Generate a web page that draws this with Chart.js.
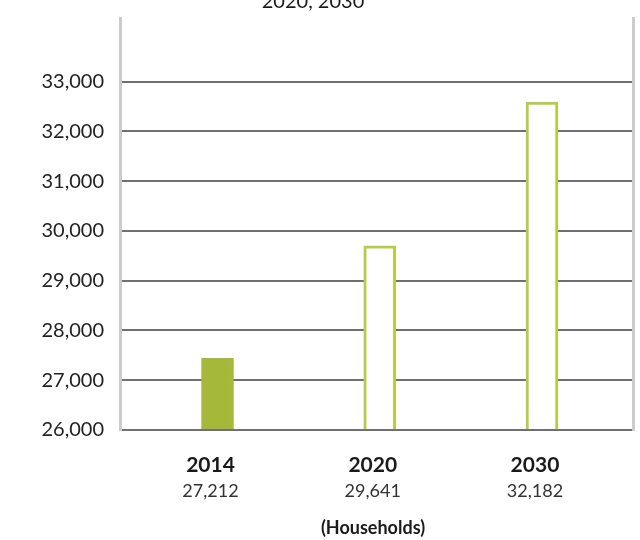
<!DOCTYPE html>
<html>
<head>
<meta charset="utf-8">
<style>
  html, body { margin: 0; padding: 0; background: #fff; overflow: hidden; }
  #wrap { width: 640px; height: 540px; position: relative; }
</style>
<script src="https://cdn.jsdelivr.net/npm/chart.js@4"></script>
</head>
<body>
<div id="wrap"><canvas id="households-chart" width="640" height="540"></canvas></div>
<script>
const years = ['2014', '2020', '2030'];
const valueLabels = ['27,212', '29,641', '32,182'];
// bar heights as drawn in the picture
const barValues = [27440, 29700, 32590];
const yTicks = [26000, 27000, 28000, 29000, 30000, 31000, 32000, 33000];
const titleText = '2020, 2030';
const unitText = '(Households)';

const green = '#a6b83a';
const lightGreen = '#b8cb48';
const fontFamily = 'Lato, "Open Sans", sans-serif';

const labelsPlugin = {
  id: 'labels',
  afterDraw(chart) {
    const c = chart.ctx;
    const x = chart.scales.x;
    c.save();
    c.fillStyle = '#1a1a1a';
    c.textAlign = 'center';
    c.textBaseline = 'alphabetic';
    c.font = '20px ' + fontFamily;
    c.fillText(titleText, 313, 8);
    years.forEach((yr, i) => {
      const px = x.getPixelForValue(i + 1) - 7;
      c.font = 'bold 21px ' + fontFamily;
      c.fillStyle = '#1a1a1a';
      c.fillText(yr, px, 472);
      c.font = '18px ' + fontFamily;
      c.fillStyle = '#333';
      c.fillText(valueLabels[i], px, 497);
    });
    c.font = 'bold 18px ' + fontFamily;
    c.fillStyle = '#1a1a1a';
    c.fillText(unitText, 373, 534);
    c.restore();
  }
};

const chart = new Chart(document.getElementById('households-chart'), {
  type: 'bar',
  data: {
    datasets: [{
      data: barValues.map((v, i) => ({ x: i + 1, y: v })),
      base: 26000,
      backgroundColor: ['#a6b83a', '#ffffff', '#ffffff'],
      borderColor: [green, lightGreen, lightGreen],
      borderWidth: 3,
      borderSkipped: 'start',
      barThickness: 32,
    }]
  },
  options: {
    responsive: false,
    animation: false,
    layout: { padding: { top: 15, bottom: 110, left: 0, right: 0 } },
    plugins: {
      legend: { display: false },
      tooltip: { enabled: false },
    },
    scales: {
      x: {
        type: 'linear',
        min: 0.399,
        max: 3.561,
        offset: false,
        display: false,
      },
      y: {
        min: 26000,
        max: 34280,
        afterBuildTicks: axis => { axis.ticks = yTicks.map(v => ({ value: v })); },
        afterFit: scale => { scale.width = 120; },
        ticks: {
          padding: 16,
          color: '#222',
          font: { family: fontFamily, size: 20, lineHeight: 0.2 },
          callback: v => v.toLocaleString('en-US'),
        },
        grid: { color: '#707070', lineWidth: 2, drawTicks: false },
        border: { color: '#cccccc', width: 3 },
      },
      yR: {
        position: 'right',
        min: 26000,
        max: 34280,
        afterFit: scale => { scale.width = 7; },
        ticks: { display: false },
        grid: { display: false, drawTicks: false },
        border: { color: '#cccccc', width: 3 },
      }
    }
  },
  plugins: [labelsPlugin]
});
</script>
</body>
</html>
